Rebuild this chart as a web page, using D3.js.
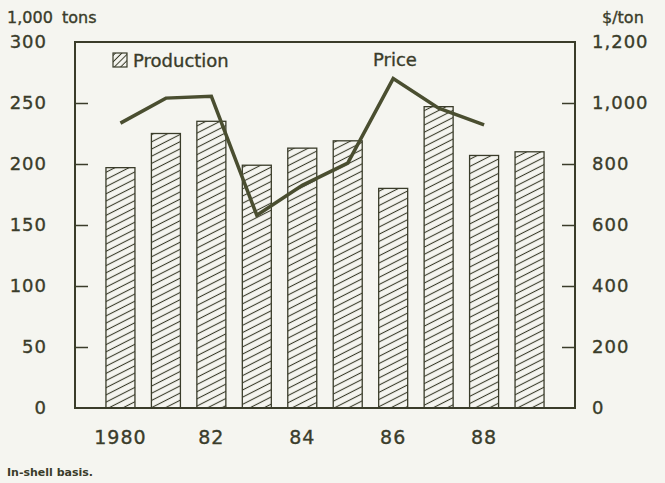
<!DOCTYPE html>
<html>
<head>
<meta charset="utf-8">
<script src="https://cdn.jsdelivr.net/npm/d3@7"></script>
<style>
  body { margin: 0; background: #f5f5f0; }
  svg { display: block; }
  text { font-family: "DejaVu Sans", sans-serif; fill: #3a3c2a; stroke: #3a3c2a; stroke-width: 0.35px; }
</style>
</head>
<body>
<div id="chartid"></div>
<script>
/***** data *****/
var years = [1980, 1981, 1982, 1983, 1984, 1985, 1986, 1987, 1988, 1989];
var production = [197, 225, 235, 199, 213, 219, 180, 247, 207, 210];
var priceYears = [1980, 1981, 1982, 1983, 1984, 1985, 1986, 1987, 1988];
var price = [934, 1016, 1022, 632, 730, 803, 1080, 983, 928];
var xTickYears = [1980, 1982, 1984, 1986, 1988];
var xTickLabels = ["1980", "82", "84", "86", "88"];
var leftTicks = [0, 50, 100, 150, 200, 250, 300];
var rightTicks = [0, 200, 400, 600, 800, 1000, 1200];

/***** chart parameters *****/
var width = 665;
var height = 483;
var margin = {top: 42, right: 90, bottom: 75, left: 75};
var ink = "#3a3c2a";
var lineInk = "#4a4e30";

var svg = d3.select("div#chartid")
  .append("svg")
  .attr("width", width)
  .attr("height", height)
;

svg.append("rect")
  .attr("width", width)
  .attr("height", height)
  .attr("fill", "#f5f5f0");

//hatch patterns
var defs = svg.append("defs");
defs.append("pattern")
  .attr("id", "hatch")
  .attr("patternUnits", "userSpaceOnUse")
  .attr("width", 10)
  .attr("height", 6.4)
  .attr("patternTransform", "rotate(-27)")
  .append("line")
  .attr("x1", 0).attr("x2", 10)
  .attr("y1", 3.2).attr("y2", 3.2)
  .attr("stroke", ink)
  .attr("stroke-width", 1.1);

defs.append("pattern")
  .attr("id", "hatchLegend")
  .attr("patternUnits", "userSpaceOnUse")
  .attr("width", 10)
  .attr("height", 4.5)
  .attr("patternTransform", "rotate(-45)")
  .append("line")
  .attr("x1", 0).attr("x2", 10)
  .attr("y1", 2.2).attr("y2", 2.2)
  .attr("stroke", ink)
  .attr("stroke-width", 1);

//scales
var x = d3.scaleLinear()
  .domain([1979, 1990])
  .range([margin.left, width - margin.right]);

var y = d3.scaleLinear()
  .domain([0, 300])
  .range([height - margin.bottom, margin.top]);

var y2 = d3.scaleLinear()
  .domain([0, 1200])
  .range([height - margin.bottom, margin.top]);

var barWidth = 29;

//bars
svg.append("g")
  .selectAll("rect")
  .data(years)
  .enter()
  .append("rect")
  .attr("x", function(d) { return x(d) - barWidth / 2; })
  .attr("y", function(d, i) { return y(production[i]); })
  .attr("width", barWidth)
  .attr("height", function(d, i) { return y(0) - y(production[i]); })
  .attr("fill", "url(#hatch)")
  .attr("stroke", ink)
  .attr("stroke-width", 1.3);

//price line
var line = d3.line()
  .x(function(d) { return x(d); })
  .y(function(d, i) { return y2(price[i]); });

svg.append("path")
  .datum(priceYears)
  .attr("d", line)
  .attr("fill", "none")
  .attr("stroke", lineInk)
  .attr("stroke-width", 3.5)
  .attr("stroke-linejoin", "miter");

//frame
svg.append("rect")
  .attr("x", x(1979))
  .attr("y", y(300))
  .attr("width", x(1990) - x(1979))
  .attr("height", y(0) - y(300))
  .attr("fill", "none")
  .attr("stroke", ink)
  .attr("stroke-width", 2);

//left axis (ticks inside frame)
var yAxis = d3.axisRight(y)
  .tickValues(leftTicks.slice(1, -1))
  .tickSize(13)
  .tickFormat("");
svg.append("g")
  .attr("transform", "translate(" + x(1979) + ",0)")
  .call(yAxis)
  .call(function(g) { g.select(".domain").remove(); })
  .selectAll("line").attr("stroke", ink).attr("stroke-width", 1.5);

var yAxis2 = d3.axisLeft(y2)
  .tickValues(rightTicks.slice(1, -1))
  .tickSize(13)
  .tickFormat("");
svg.append("g")
  .attr("transform", "translate(" + x(1990) + ",0)")
  .call(yAxis2)
  .call(function(g) { g.select(".domain").remove(); })
  .selectAll("line").attr("stroke", ink).attr("stroke-width", 1.5);

//tick labels
svg.append("g")
  .selectAll("text")
  .data(leftTicks)
  .enter()
  .append("text")
  .attr("x", 47)
  .attr("y", function(d) { return y(d); })
  .attr("dy", "0.36em")
  .attr("text-anchor", "end")
  .style("font-size", "18px")
  .style("letter-spacing", "1px")
  .text(function(d) { return d; });

svg.append("g")
  .selectAll("text")
  .data(rightTicks)
  .enter()
  .append("text")
  .attr("x", 592)
  .attr("y", function(d) { return y2(d); })
  .attr("dy", "0.36em")
  .style("font-size", "18px")
  .style("letter-spacing", "1px")
  .text(function(d) { return d3.format(",")(d); });

svg.append("g")
  .selectAll("text")
  .data(xTickYears)
  .enter()
  .append("text")
  .attr("x", function(d) { return x(d); })
  .attr("y", 437)
  .attr("dy", "0.36em")
  .attr("text-anchor", "middle")
  .style("font-size", "19px")
  .style("letter-spacing", "1px")
  .text(function(d, i) { return xTickLabels[i]; });

//unit labels
svg.append("text")
  .attr("x", 7).attr("y", 17).attr("dy", "0.36em")
  .style("font-size", "16px")
  .text("1,000");
svg.append("text")
  .attr("x", 62).attr("y", 17).attr("dy", "0.36em")
  .style("font-size", "16px")
  .text("tons");
svg.append("text")
  .attr("x", 602).attr("y", 17).attr("dy", "0.36em")
  .style("font-size", "16px")
  .text("$/ton");

//legend
svg.append("rect")
  .attr("x", 113).attr("y", 53)
  .attr("width", 14).attr("height", 14)
  .attr("fill", "url(#hatchLegend)")
  .attr("stroke", ink)
  .attr("stroke-width", 1.2);
svg.append("text")
  .attr("x", 133).attr("y", 61).attr("dy", "0.36em")
  .style("font-size", "18px")
  .text("Production");
svg.append("text")
  .attr("x", 395).attr("y", 60).attr("dy", "0.36em")
  .attr("text-anchor", "middle")
  .style("font-size", "18px")
  .text("Price");

//footnote
svg.append("text")
  .attr("x", 7).attr("y", 472).attr("dy", "0.36em")
  .style("font-size", "11px")
  .style("font-weight", "bold")
  .style("stroke-width", "0px")
  .text("In-shell basis.");
</script>
</body>
</html>
